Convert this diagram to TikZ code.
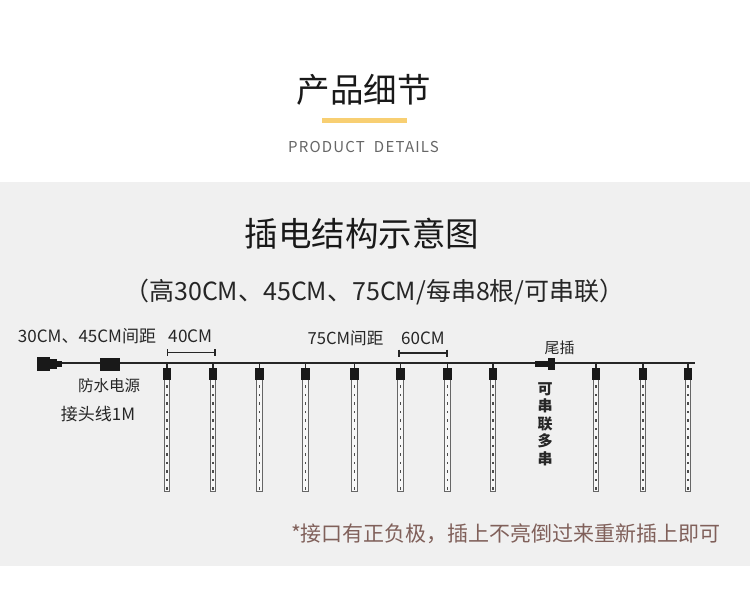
\documentclass[tikz,border=0pt]{standalone}
\usepackage{fontspec}
\setmainfont{Noto Sans CJK SC}
\definecolor{band}{HTML}{F0F0F0}
\definecolor{barcol}{HTML}{F8CF72}
\definecolor{notecol}{HTML}{80605A}
\begin{document}
\begin{tikzpicture}[x=1pt,y=-1pt,
  lbl/.style={inner sep=0pt,text=black!85},
  blk/.style={fill=black!90,draw=none,inner sep=0pt,minimum width=#1},
  wire/.style={line width=1.6pt,black!85},
  dim/.style={line width=1.2pt,black!85},
  tube/.style={draw=black!60,line width=1pt,fill=white!97!black,inner sep=0pt,minimum width=5.6pt,minimum height=112pt},
  head/.style={fill=black!90,inner sep=0pt,minimum width=8.5pt,minimum height=12pt},
  leds/.style={line width=1.5pt,black!70,dash pattern=on 2.5pt off 6pt}]
\useasboundingbox (0,0) rectangle (750,604);
\fill[white] (0,0) rectangle (750,604);
\fill[band] (0,182) rectangle (750,566);
\node[lbl,font=\fontsize{33.5}{34}\selectfont,text=black!90] (t1) at (363.5,90) {产品细节};
\fill[barcol] (322,118) rectangle (406.5,123);
\node[lbl,font=\fontsize{15}{15}\selectfont\addfontfeature{LetterSpace=8},text=black!60] (t2) at (363.5,147.5) {PRODUCT\ \ DETAILS};
\node[lbl,font=\fontsize{33.5}{34}\selectfont,text=black!90] (t3) at (362,234) {插电结构示意图};
\node[lbl,font=\fontsize{25}{25}\selectfont] (t4) at (374.5,292) {（高30CM、45CM、75CM/每串8根/可串联）};
\node[lbl,font=\fontsize{17}{17}\selectfont] (a1) at (87,336) {30CM、45CM间距};
\node[lbl,font=\fontsize{17.2}{17}\selectfont] (a2) at (190.5,336) {40CM};
\node[lbl,font=\fontsize{16.6}{17}\selectfont] (a3) at (345.5,338) {75CM间距};
\node[lbl,font=\fontsize{17}{17}\selectfont] (a4) at (423,338) {60CM};
\node[lbl,font=\fontsize{15.5}{16}\selectfont] (a5) at (109,386) {防水电源};
\node[lbl,font=\fontsize{17}{17}\selectfont] (a6) at (98,414) {接头线1M};
\node[lbl,font=\fontsize{15}{15}\selectfont] (a7) at (559.5,348) {尾插};
\node[lbl,font=\fontsize{15}{17.5}\selectfont\bfseries,align=center,text=black!85] (a8) at (545,424) {可\\串\\联\\多\\串};
\node[lbl,font=\fontsize{21}{21}\selectfont,text=notecol] (a9) at (506,534) {*接口有正负极，插上不亮倒过来重新插上即可};
% wire and plugs
\coordinate (wstart) at (60,363);
\coordinate (wend) at (695,363);
\draw[wire] (wstart) -- (wend);
\node[blk=13pt,minimum height=13.5pt] (plugA) at (43.5,364) {};
\node[blk=7pt,minimum height=10pt] (plugB) at (53,364) {};
\node[blk=5pt,minimum height=6pt] (plugC) at (59,364) {};
\node[blk=20pt,minimum height=13pt] (psu) at (110,364) {};
\node[blk=13pt,minimum height=6pt] (tailA) at (541.5,363.5) {};
\node[blk=7pt,minimum height=12pt] (tailB) at (551.5,363.5) {};
% tubes
\foreach \i/\x in {1/167,2/213,3/259.5,4/305.5,5/354.5,6/400.5,7/447.5,8/493,9/596,10/643,11/688}{
  \node[tube,anchor=north] (t\i) at (\x,379) {};
  \node[head,anchor=north] (h\i) at (\x,368) {};
  \coordinate (w\i) at (\x,363);
  \draw[black!85,line width=1.2pt] (w\i) -- (h\i.north);
  \draw[leds] (h\i.south) ++(0,5) -- (t\i.south);
}
% dimension marks
\coordinate (d1a) at (167.5,352.5); \coordinate (d1b) at (215,352.5);
\coordinate (d2a) at (399,353); \coordinate (d2b) at (447,353);
\draw[dim] (d1a) -- (d1b);
\draw[dim] (d1a) ++(0,-3.5) -- ++(0,7);
\draw[dim] (d1b) ++(0,-3.5) -- ++(0,7);
\draw[dim] (d2a) -- (d2b);
\draw[dim] (d2a) ++(0,-3.5) -- ++(0,7);
\draw[dim] (d2b) ++(0,-3.5) -- ++(0,7);
\end{tikzpicture}
\end{document}
